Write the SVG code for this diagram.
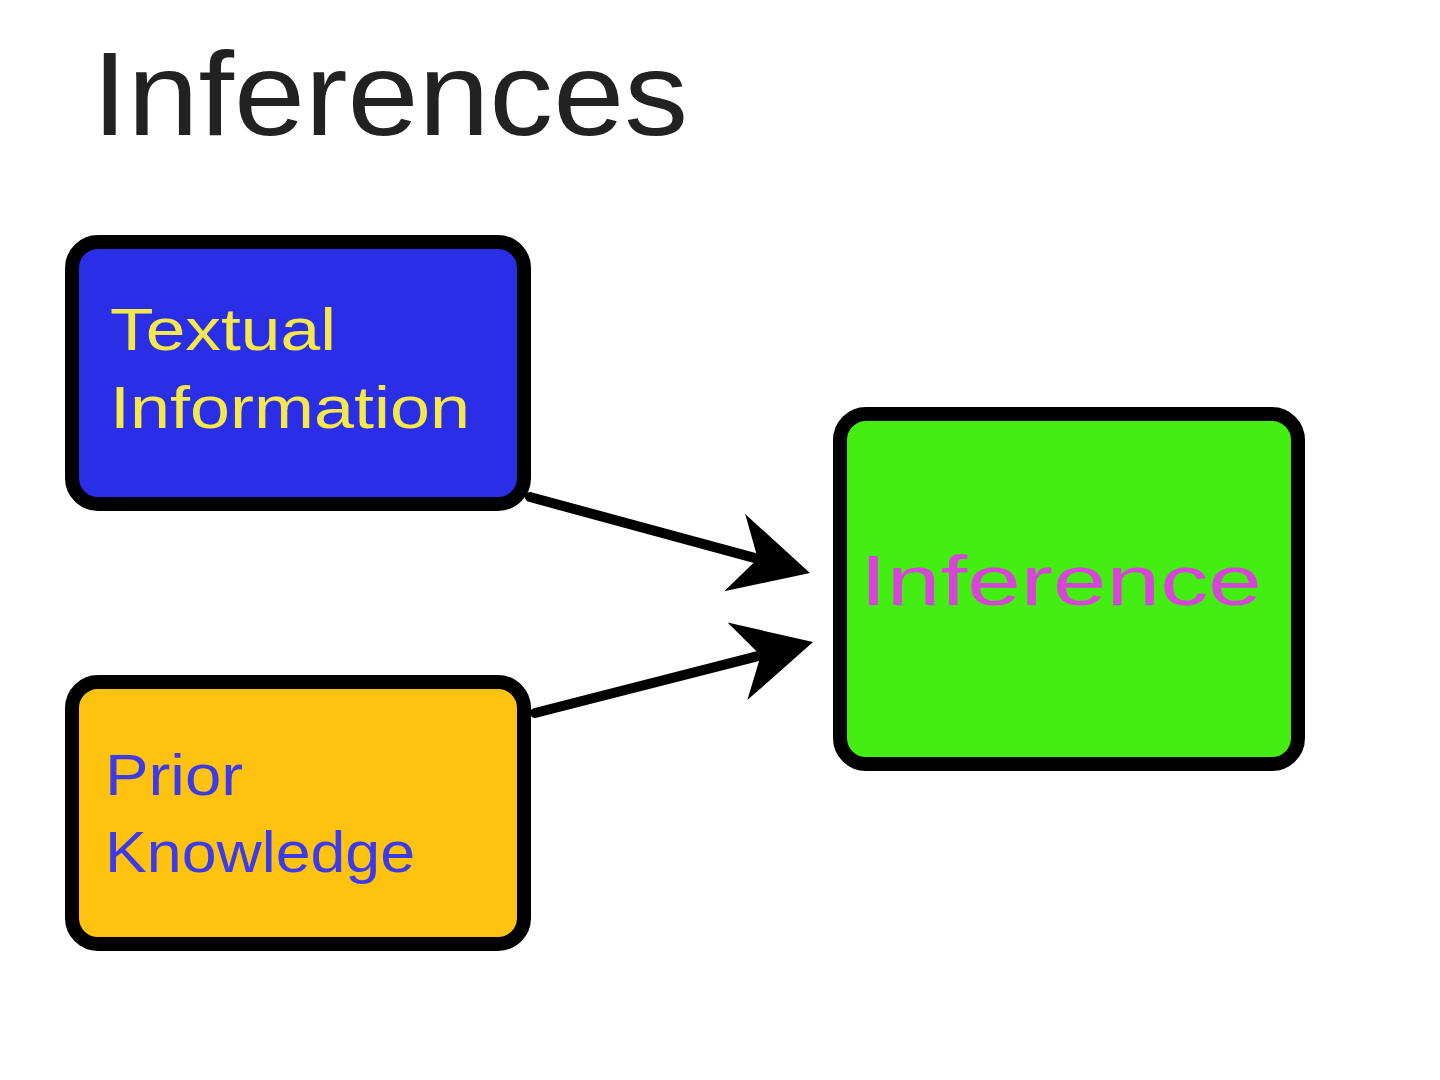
<svg xmlns="http://www.w3.org/2000/svg" width="1440" height="1080" viewBox="0 0 1440 1080">
<defs>
<style>
.box{stroke:#000;stroke-width:14}
.lbl{font-family:"Comic Sans MS","Liberation Sans",sans-serif}
.conn{stroke:#000;stroke-width:10;fill:none;stroke-linecap:round}
</style>
<marker id="ah" viewBox="0 -45 85 90" refX="30" refY="0" markerWidth="85" markerHeight="90" markerUnits="userSpaceOnUse" orient="auto">
<path d="M80,0 L2,-40 L26,0 L2,40 Z" fill="#000"/>
</marker>
</defs>
<rect width="1440" height="1080" fill="#fff"/>
<text id="title" x="92" y="135" class="lbl" font-size="118" fill="#222" textLength="596" lengthAdjust="spacingAndGlyphs">Inferences</text>
<g id="textual">
<rect class="box" x="72" y="242" width="452" height="262" rx="26" fill="#2a2ee6"/>
<text class="lbl" font-size="60" fill="#f5e84a"><tspan x="110" y="350" textLength="226" lengthAdjust="spacingAndGlyphs">Textual</tspan><tspan x="110" y="428" textLength="360" lengthAdjust="spacingAndGlyphs">Information</tspan></text>
</g>
<g id="prior">
<rect class="box" x="72" y="682" width="452" height="262" rx="26" fill="#ffc20e"/>
<text class="lbl" font-size="58" fill="#3b3bea"><tspan x="105" y="795" textLength="138" lengthAdjust="spacingAndGlyphs">Prior</tspan><tspan x="105" y="872" textLength="310" lengthAdjust="spacingAndGlyphs">Knowledge</tspan></text>
</g>
<g id="inference">
<rect class="box" x="840" y="414" width="458" height="350" rx="26" fill="#44ee12"/>
<text class="lbl" x="860" y="605" font-size="70" fill="#d844d8" textLength="402" lengthAdjust="spacingAndGlyphs">Inference</text>
</g>
<g id="connectors">
<path class="conn" d="M530,497 L761.7,559.9" marker-end="url(#ah)"/>
<path class="conn" d="M535,713 L764.6,654.4" marker-end="url(#ah)"/>
</g>
</svg>
